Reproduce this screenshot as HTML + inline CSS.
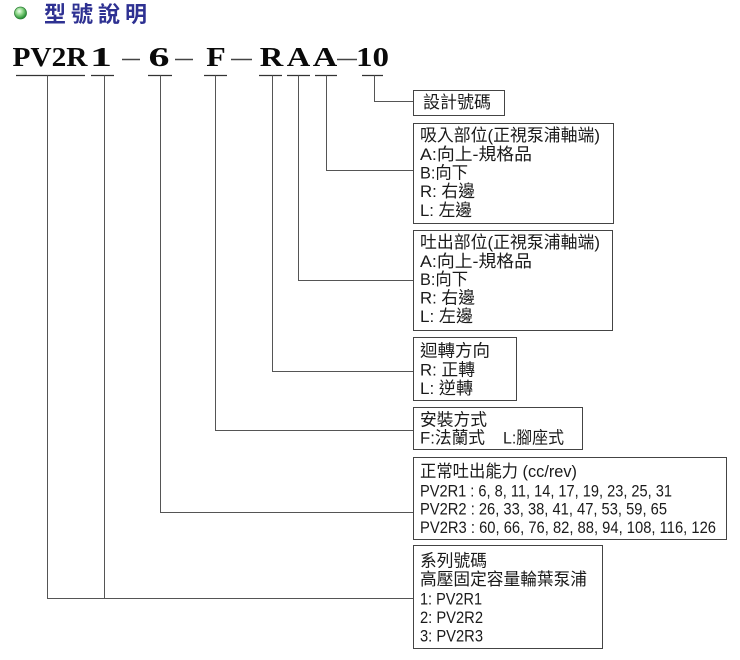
<!DOCTYPE html>
<html>
<head>
<meta charset="utf-8">
<style>
  html, body { margin: 0; padding: 0; background: #ffffff; }
  svg { display: block; }
  .t { font-family: "Liberation Sans", "Noto Sans CJK TC", sans-serif; font-size: 17px; fill: #1a1a1a; }
  .code { font-family: "Liberation Serif", "Noto Serif CJK SC", serif; font-size: 27px; font-weight: bold; fill: #0a0a0a; }
  .title { font-family: "Liberation Sans", "Noto Sans CJK TC", sans-serif; font-size: 22px; font-weight: bold; fill: #2e3192; }
</style>
</head>
<body>
<svg width="740" height="660" viewBox="0 0 740 660" xmlns="http://www.w3.org/2000/svg">
  <defs>
    <radialGradient id="ball" cx="40%" cy="35%" r="65%">
      <stop offset="0%" stop-color="#f2fff0"/>
      <stop offset="45%" stop-color="#8fd88a"/>
      <stop offset="100%" stop-color="#1f8a2e"/>
    </radialGradient>
  </defs>
  <rect x="0" y="0" width="740" height="660" fill="#ffffff"/>

  <!-- Title -->
  <circle cx="20.5" cy="13" r="6" fill="url(#ball)" stroke="#2a7d35" stroke-width="0.8"/>
  <text class="title" x="44" y="22">型</text>
  <text class="title" x="71" y="22">號</text>
  <text class="title" x="98" y="22">說</text>
  <text class="title" x="125" y="22">明</text>

  <!-- Model code -->
  <text class="code" x="12.5" y="66" textLength="75" lengthAdjust="spacingAndGlyphs">PV2R</text>
  <text class="code" x="90" y="66" textLength="22" lengthAdjust="spacingAndGlyphs">1</text>
  <text class="code" x="148.5" y="66" textLength="21" lengthAdjust="spacingAndGlyphs">6</text>
  <text class="code" x="206.25" y="66" textLength="19.5" lengthAdjust="spacingAndGlyphs">F</text>
  <text class="code" x="259.75" y="66" textLength="23.5" lengthAdjust="spacingAndGlyphs">R</text>
  <text class="code" x="286.75" y="66" textLength="23.5" lengthAdjust="spacingAndGlyphs">A</text>
  <text class="code" x="312.75" y="66" textLength="24.5" lengthAdjust="spacingAndGlyphs">A</text>
  <text class="code" x="356" y="66" textLength="33" lengthAdjust="spacingAndGlyphs">10</text>

  <!-- thin dashes -->
  <g stroke="#444" stroke-width="1.6">
    <line x1="122" y1="59.5" x2="140" y2="59.5"/>
    <line x1="175" y1="59.5" x2="193" y2="59.5"/>
    <line x1="231" y1="59.5" x2="252" y2="59.5"/>
    <line x1="337" y1="59.5" x2="357" y2="59.5"/>
  </g>

  <!-- underlines -->
  <g stroke="#333" stroke-width="1.2">
    <line x1="16" y1="75.5" x2="85" y2="75.5"/>
    <line x1="91" y1="75.5" x2="114" y2="75.5"/>
    <line x1="148" y1="75.5" x2="172" y2="75.5"/>
    <line x1="204" y1="75.5" x2="227" y2="75.5"/>
    <line x1="259" y1="75.5" x2="282" y2="75.5"/>
    <line x1="287" y1="75.5" x2="310" y2="75.5"/>
    <line x1="315" y1="75.5" x2="337" y2="75.5"/>
    <line x1="362" y1="75.5" x2="383" y2="75.5"/>
  </g>

  <!-- connectors -->
  <g stroke="#555" stroke-width="1" fill="none">
    <path d="M47.5 75.5 V598.5 H413.5"/>
    <path d="M104.5 75.5 V598.5"/>
    <path d="M160.5 75.5 V512.5 H413.5"/>
    <path d="M215.5 75.5 V430.5 H413.5"/>
    <path d="M272.5 75.5 V371.5 H413.5"/>
    <path d="M298.5 75.5 V280.5 H413.5"/>
    <path d="M326.5 75.5 V170.5 H413.5"/>
    <path d="M374.5 75.5 V101.5 H413.5"/>
  </g>

  <!-- boxes -->
  <g stroke="#444" stroke-width="1" fill="#ffffff">
    <rect x="413.5" y="90.5" width="91" height="25"/>
    <rect x="413.5" y="123.5" width="200" height="100"/>
    <rect x="413.5" y="230.5" width="199" height="100"/>
    <rect x="413.5" y="337.5" width="103" height="63"/>
    <rect x="413.5" y="407.5" width="169" height="42"/>
    <rect x="413.5" y="457.5" width="313" height="82"/>
    <rect x="413.5" y="545.5" width="189" height="103"/>
  </g>

  <!-- box 1 -->
  <text class="t" x="423" y="108" textLength="68" lengthAdjust="spacingAndGlyphs">設計號碼</text>

  <!-- box 2 -->
  <text class="t" x="420" y="141" textLength="180" lengthAdjust="spacingAndGlyphs">吸入部位(正視泵浦軸端)</text>
  <text class="t" x="420" y="160" textLength="112" lengthAdjust="spacingAndGlyphs">A:向上-規格品</text>
  <text class="t" x="420" y="178.5" textLength="48" lengthAdjust="spacingAndGlyphs">B:向下</text>
  <text class="t" x="420" y="197" textLength="55" lengthAdjust="spacingAndGlyphs">R: 右邊</text>
  <text class="t" x="420" y="216" textLength="52" lengthAdjust="spacingAndGlyphs">L: 左邊</text>

  <!-- box 3 -->
  <text class="t" x="420" y="248" textLength="180" lengthAdjust="spacingAndGlyphs">吐出部位(正視泵浦軸端)</text>
  <text class="t" x="420" y="267" textLength="112" lengthAdjust="spacingAndGlyphs">A:向上-規格品</text>
  <text class="t" x="420" y="285" textLength="48" lengthAdjust="spacingAndGlyphs">B:向下</text>
  <text class="t" x="420" y="303.5" textLength="55" lengthAdjust="spacingAndGlyphs">R: 右邊</text>
  <text class="t" x="420" y="322" textLength="53" lengthAdjust="spacingAndGlyphs">L: 左邊</text>

  <!-- box 4 -->
  <text class="t" x="420" y="356.5" textLength="70" lengthAdjust="spacingAndGlyphs">迴轉方向</text>
  <text class="t" x="420" y="375.5" textLength="55" lengthAdjust="spacingAndGlyphs">R: 正轉</text>
  <text class="t" x="420" y="394" textLength="53" lengthAdjust="spacingAndGlyphs">L: 逆轉</text>

  <!-- box 5 -->
  <text class="t" x="420" y="425.5" textLength="67" lengthAdjust="spacingAndGlyphs">安裝方式</text>
  <text class="t" x="420" y="443.5" textLength="65" lengthAdjust="spacingAndGlyphs">F:法蘭式</text>
  <text class="t" x="503" y="443.5" textLength="61" lengthAdjust="spacingAndGlyphs">L:腳座式</text>

  <!-- box 6 -->
  <text class="t" x="420" y="477" textLength="157" lengthAdjust="spacingAndGlyphs">正常吐出能力 (cc/rev)</text>
  <text class="t" x="420" y="496.5" textLength="252" lengthAdjust="spacingAndGlyphs">PV2R1 : 6, 8, 11, 14, 17, 19, 23, 25, 31</text>
  <text class="t" x="420" y="514.5" textLength="247" lengthAdjust="spacingAndGlyphs">PV2R2 : 26, 33, 38, 41, 47, 53, 59, 65</text>
  <text class="t" x="420" y="533" textLength="296" lengthAdjust="spacingAndGlyphs">PV2R3 : 60, 66, 76, 82, 88, 94, 108, 116, 126</text>

  <!-- box 7 -->
  <text class="t" x="420" y="566.5" textLength="67" lengthAdjust="spacingAndGlyphs">系列號碼</text>
  <text class="t" x="420" y="585" textLength="167" lengthAdjust="spacingAndGlyphs">高壓固定容量輪葉泵浦</text>
  <text class="t" x="420" y="604.5" textLength="62" lengthAdjust="spacingAndGlyphs">1: PV2R1</text>
  <text class="t" x="420" y="623" textLength="63" lengthAdjust="spacingAndGlyphs">2: PV2R2</text>
  <text class="t" x="420" y="641.5" textLength="63" lengthAdjust="spacingAndGlyphs">3: PV2R3</text>
</svg>
</body>
</html>
